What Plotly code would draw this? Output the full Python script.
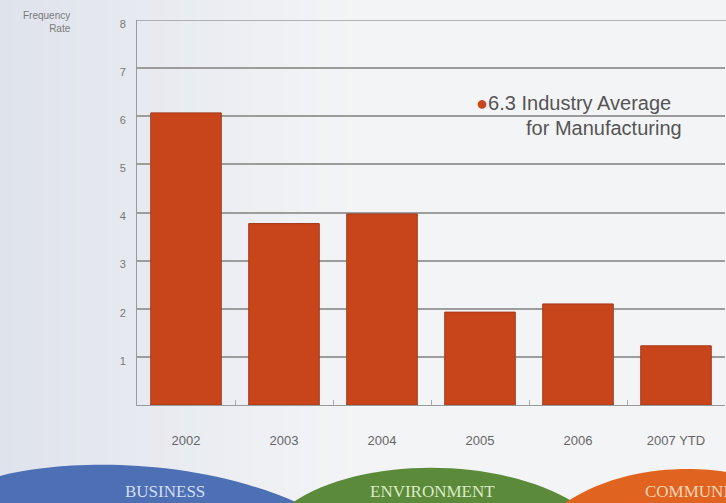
import plotly.graph_objects as go

W, H = 726, 503

years = ["2002", "2003", "2004", "2005", "2006", "2007 YTD"]
rates = [6.07, 3.77, 3.97, 1.93, 2.1, 1.23]
y_ticks = [1, 2, 3, 4, 5, 6, 7, 8]
industry_avg = 6.3
bands = ["BUSINESS", "ENVIRONMENT", "COMMUNITY"]

# plot area in pixels
L, R, T, B = 137, 725, 20, 405


def px(x):
    return x / W


def py(y):
    return 1 - y / H


def path(pts):
    out = []
    for cmd, coords in pts:
        s = " ".join(f"{px(coords[i]):.4f},{py(coords[i+1]):.4f}" for i in range(0, len(coords), 2))
        out.append(f"{cmd} {s}")
    return " ".join(out) + " Z"


def mix(c1, c2, t):
    a = [int(c1[i:i + 2], 16) for i in (1, 3, 5)]
    b = [int(c2[i:i + 2], 16) for i in (1, 3, 5)]
    return "#" + "".join(f"{round(a[k] + (b[k] - a[k]) * t):02x}" for k in range(3))


fig = go.Figure()
fig.add_trace(go.Bar(
    x=years, y=rates,
    marker=dict(color="#c8451c", line=dict(color="#a5381a", width=1)),
    width=0.72,
    hoverinfo="x+y",
))

shapes = []
# background gradient strips (left bluish-grey to near white)
n = 24
for i in range(n):
    x0 = i * 15
    x1 = (i + 1) * 15 if i < n - 1 else W
    shapes.append(dict(type="rect", xref="paper", yref="paper",
                       x0=px(x0), x1=px(x1), y0=0, y1=1,
                       fillcolor=mix("#dfe3ec", "#f3f4f6", i / (n - 1)),
                       line=dict(width=0), layer="below"))

# top frame line at 8
shapes.append(dict(type="line", xref="paper", yref="y", x0=px(L), x1=1, y0=8, y1=8,
                   line=dict(color="#9c9c9c", width=1.5), layer="below"))

# waves
shapes.append(dict(type="path", xref="paper", yref="paper", layer="above",
                   path=path([("M", [0, 503]), ("L", [0, 476]),
                              ("C", [60, 460, 190, 455, 298, 503])]),
                   fillcolor="#4d6fb3", line=dict(width=0)))
shapes.append(dict(type="path", xref="paper", yref="paper", layer="above",
                   path=path([("M", [292, 503]),
                              ("C", [360, 456, 500, 456, 575, 503])]),
                   fillcolor="#5b8a3a", line=dict(width=0)))
shapes.append(dict(type="path", xref="paper", yref="paper", layer="above",
                   path=path([("M", [565, 503]),
                              ("C", [620, 466, 690, 466, 726, 472]), ("L", [726, 503])]),
                   fillcolor="#e0631f", line=dict(width=0)))

annotations = [
    dict(text="Frequency<br>Rate", xref="paper", yref="paper", x=px(73), y=py(8),
         xanchor="right", yanchor="top", align="right", showarrow=False,
         font=dict(size=10, color="#7a7a7a", family="Arial")),
    dict(text="<span style='color:#c9461c'>●</span>6.3 Industry Average", xref="paper", yref="paper",
         x=px(474), y=py(103), xanchor="left", yanchor="middle", showarrow=False,
         font=dict(size=20, color="#555555", family="Arial")),
    dict(text="for Manufacturing", xref="paper", yref="paper", x=px(684), y=py(128),
         xanchor="right", yanchor="middle", showarrow=False,
         font=dict(size=20, color="#555555", family="Arial")),
    dict(text=bands[0], xref="paper", yref="paper", x=px(165), y=py(491),
         xanchor="center", yanchor="middle", showarrow=False,
         font=dict(size=17, color="#d3def2", family="Liberation Serif")),
    dict(text=bands[1], xref="paper", yref="paper", x=px(432), y=py(491),
         xanchor="center", yanchor="middle", showarrow=False,
         font=dict(size=17, color="#dcebc6", family="Liberation Serif")),
    dict(text=bands[2], xref="paper", yref="paper", x=px(643), y=py(491),
         xanchor="left", yanchor="middle", showarrow=False,
         font=dict(size=17, color="#f7d5b8", family="Liberation Serif")),
]

fig.update_layout(
    width=W, height=H,
    margin=dict(l=0, r=0, t=0, b=0),
    paper_bgcolor="#f2f3f6",
    plot_bgcolor="rgba(247,248,250,0.55)",
    showlegend=False,
    bargap=0.28,
    shapes=shapes,
    annotations=annotations,
    xaxis=dict(domain=[px(L), px(R)], range=[-0.5, 5.5], showgrid=False, automargin=False,
               showline=True, linecolor="#999999", linewidth=1,
               ticks="inside", tickson="boundaries", ticklen=5, tickcolor="#aaaaaa",
               ticklabelstandoff=23,
               tickfont=dict(size=13, color="#666666", family="Arial")),
    yaxis=dict(domain=[py(B), py(T)], range=[0, 8], tickvals=y_ticks, automargin=False,
               showgrid=True, gridcolor="#9c9c9c", gridwidth=1.5,
               showline=True, linecolor="#999999", linewidth=1, zeroline=False,
               ticks="", ticklabelstandoff=8, ticklabelshift=4,
               tickfont=dict(size=11, color="#777777", family="Arial")),
)

fig.write_html("out.html", config={"displayModeBar": False},
               post_script="document.body.style.margin='0';document.body.style.overflow='hidden';")
